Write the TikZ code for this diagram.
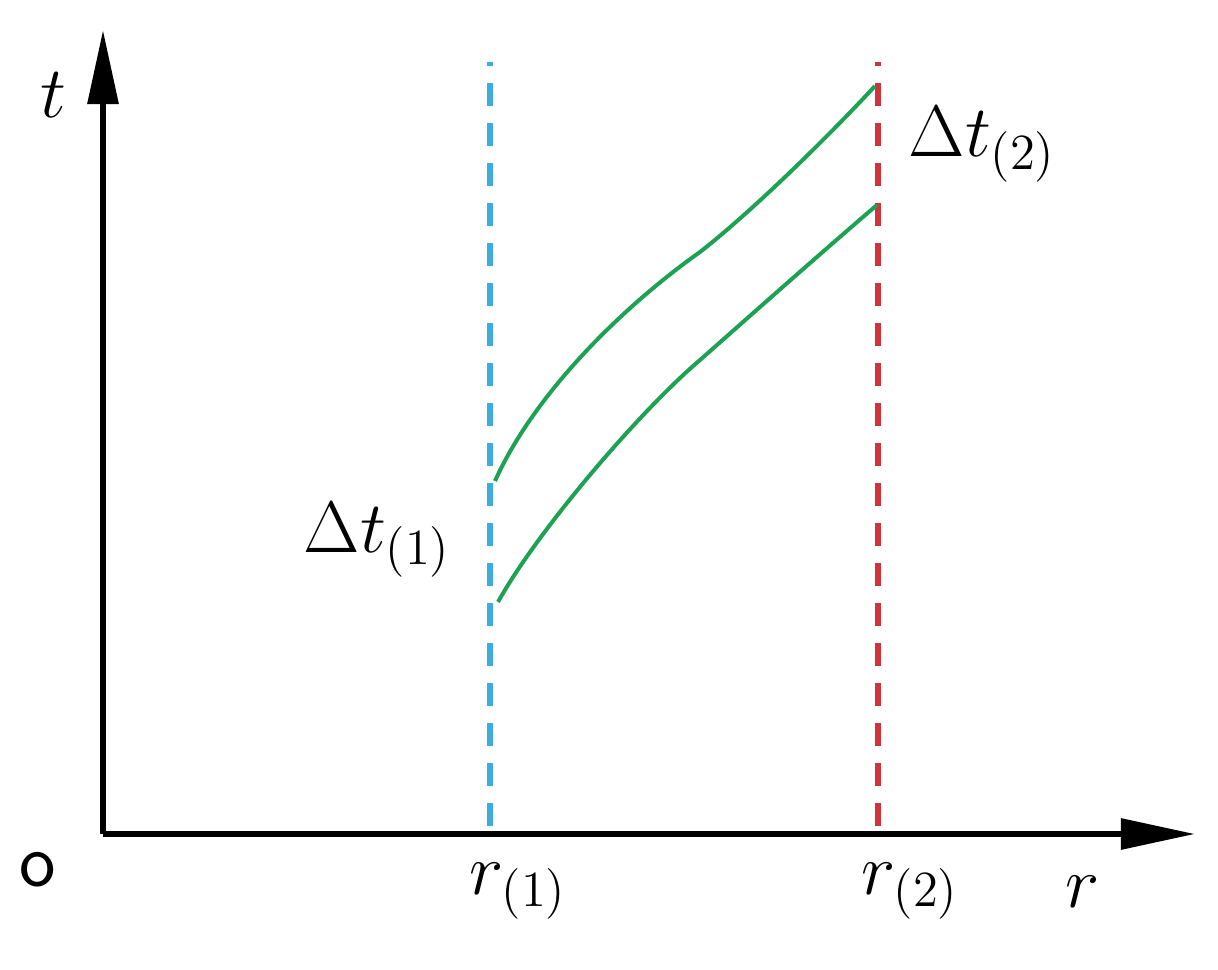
\documentclass[tikz,border=0pt]{standalone}
\usetikzlibrary{arrows.meta}
\definecolor{lineblue}{RGB}{58,172,222}
\definecolor{linered}{RGB}{208,52,62}
\definecolor{curvegreen}{RGB}{28,162,82}
\tikzset{
  axisline/.style={line width=0.06cm, -{Triangle[length=0.74cm,width=0.30cm]}},
  guideline/.style={line width=0.065cm, dash pattern=on 0.23cm off 0.17cm, dash phase=0.19cm},
  curveline/.style={curvegreen, line width=0.04cm},
  lbl/.style={inner sep=0pt, font=\fontsize{22}{26}\selectfont}
}
\begin{document}
\begin{tikzpicture}[x=0.01cm,y=-0.01cm]
\useasboundingbox (0,0) rectangle (1218,970);
\coordinate (O) at (103,834);
\coordinate (ytip) at (103,30);
\coordinate (xtip) at (1195,834);
\coordinate (b1) at (490,62);
\coordinate (b2) at (490,834);
\coordinate (r1) at (878,62);
\coordinate (r2) at (878,834);
% axes
\draw[axisline] (O) -- (ytip);
\draw[axisline] (O) -- (xtip);
% guide lines
\draw[guideline, lineblue] (b1) -- (b2);
\draw[guideline, linered] (r1) -- (r2);
% curves
\draw[curveline] (495,481) .. controls (535,392) and (625,305) .. (700,252)
  .. controls (760,205) and (840,124) .. (875,86);
\draw[curveline] (498,602) .. controls (538,530) and (640,411) .. (700,360)
  .. controls (760,307) and (822,252) .. (877,205);
% labels
\node[lbl, anchor=base west] (tl) at (40,118) {$t$};
\node[lbl, anchor=center] (ol) at (38,870) {\sffamily o};
\node[lbl, anchor=base west] (rl) at (1065,907) {$r$};
\node[lbl, anchor=base west] (r1l) at (469,894) {$r_{(1)}$};
\node[lbl, anchor=base west] (r2l) at (861,894) {$r_{(2)}$};
\node[lbl, anchor=base west] (d1l) at (303,552) {$\Delta t_{(1)}$};
\node[lbl, anchor=base west] (d2l) at (908,157) {$\Delta t_{(2)}$};
\end{tikzpicture}
\end{document}
